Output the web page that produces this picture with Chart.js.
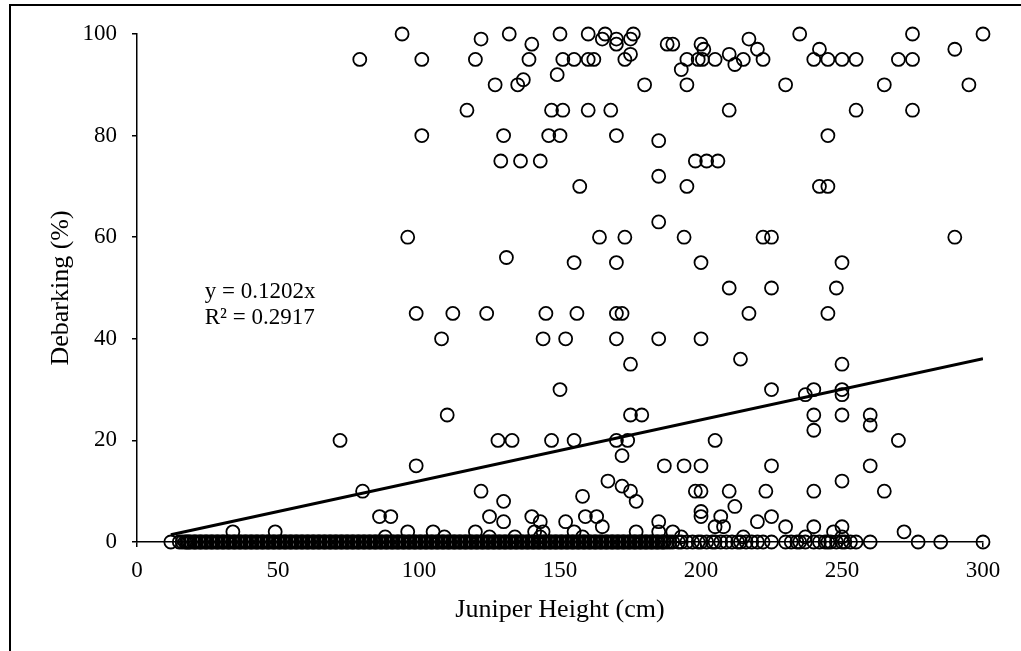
<!DOCTYPE html>
<html>
<head>
<meta charset="utf-8">
<script src="https://cdn.jsdelivr.net/npm/chart.js@4.4.0/dist/chart.umd.min.js"></script>
<style>
    html, body { margin: 0; padding: 0; background: #fff; overflow: hidden; }
    #frame {
        position: absolute; left: 9px; top: 4px; width: 1100px; height: 700px;
        border-left: 2px solid #000; border-top: 2px solid #000;
    }
    #chart { position: absolute; left: 0; top: 0; }
</style>
</head>
<body>
<div id="frame"></div>
<canvas id="chart" width="1021" height="651"></canvas>
<script>
// Junipers with some debarking: height (cm) and debarked share (%)
const heightCm = [
    94, 132, 150, 160, 166, 176, 235, 275, 300,
    122, 165, 170, 175, 217,
    140, 170, 188, 190, 200,
    201, 220, 242, 290,
    175, 210,
    79, 101, 120, 139, 151, 155, 160, 162, 173, 195, 199, 200.5, 205, 215, 222, 240, 245, 250, 255, 270, 275,
    212, 193, 149, 137,
    127, 135, 180, 195, 230, 265, 295,
    117, 147, 151, 160, 168, 210, 255, 275,
    101, 130, 146, 150, 170, 245,
    185,
    129, 136, 143, 198, 202, 206,
    185,
    157, 195, 242, 245,
    185,
    96, 164, 173, 194, 222, 225, 290,
    131,
    155, 170, 200, 250,
    210, 225, 248,
    99, 112, 124, 145, 156, 170, 172, 217, 245,
    108, 144, 152, 170, 185, 200,
    214,
    175, 250,
    150, 225, 240, 250,
    237, 250,
    110, 175, 179, 240, 250, 260,
    260, 240,
    72, 128, 133, 147, 155, 170, 174, 205, 270,
    172,
    99, 187, 194, 200, 225, 260,
    167, 250,
    172,
    80, 122, 175, 198, 200, 210, 223, 240, 265,
    158,
    130, 177,
    212, 200,
    86, 90, 125, 140, 159, 163, 200, 207, 225,
    130, 143, 152, 185, 220,
    165, 205, 208, 230, 240, 250,
    34, 49, 96, 105, 120, 141, 144, 155, 177, 185, 190, 247, 272,
    88, 109, 125, 134, 143, 158, 193, 215, 237, 250
];
const debarkPct = [
    100, 100, 100, 100, 100, 100, 100, 100, 100,
    99, 99, 99, 99, 99,
    98, 98, 98, 98, 98,
    97, 97, 97, 97,
    96, 96,
    95, 95, 95, 95, 95, 95, 95, 95, 95, 95, 95, 95, 95, 95, 95, 95, 95, 95, 95, 95, 95,
    94, 93, 92, 91,
    90, 90, 90, 90, 90, 90, 90,
    85, 85, 85, 85, 85, 85, 85, 85,
    80, 80, 80, 80, 80, 80,
    79,
    75, 75, 75, 75, 75, 75,
    72,
    70, 70, 70, 70,
    63,
    60, 60, 60, 60, 60, 60, 60,
    56,
    55, 55, 55, 55,
    50, 50, 50,
    45, 45, 45, 45, 45, 45, 45, 45, 45,
    40, 40, 40, 40, 40, 40,
    36,
    35, 35,
    30, 30, 30, 30,
    29, 29,
    25, 25, 25, 25, 25, 25,
    23, 22,
    20, 20, 20, 20, 20, 20, 20, 20, 20,
    17,
    15, 15, 15, 15, 15, 15,
    12, 12,
    11,
    10, 10, 10, 10, 10, 10, 10, 10, 10,
    9,
    8, 8,
    7, 6,
    5, 5, 5, 5, 5, 5, 5, 5, 5,
    4, 4, 4, 4, 4,
    3, 3, 3, 3, 3, 3,
    2, 2, 2, 2, 2, 2, 2, 2, 2, 2, 2, 2, 2,
    1, 1, 1, 1, 1, 1, 1, 1, 1, 1
];
// Junipers with no debarking (0 %) - the small trees are very many
const undamagedHeightCm = [
    12, 15, 16, 17, 18, 19, 20, 21, 22, 23, 24, 25, 26, 27, 28, 29, 30, 31, 32, 33,
    34, 35, 36, 37, 38, 39, 40, 41, 42, 43, 44, 45, 46, 47, 48, 49, 50, 51, 52, 53,
    54, 55, 56, 57, 58, 59, 60, 61, 62, 63, 64, 65, 66, 67, 68, 69, 70, 71, 72, 73,
    74, 75, 76, 77, 78, 79, 80, 81, 82, 83, 84, 85, 86, 87, 88, 89, 90, 91, 92, 93,
    94, 95, 96, 97, 98, 99, 100, 101, 102, 103, 104, 105, 106, 107, 108, 109, 110, 111, 112, 113,
    114, 115, 116, 117, 118, 119, 120, 121, 122, 123, 124, 125, 126, 127, 128, 129, 130, 131, 132, 133,
    134, 135, 136, 137, 138, 139, 140, 141, 142, 143, 144, 145, 146, 147, 148, 149, 150, 151, 152, 153,
    154, 155, 156, 157, 158, 159, 160, 161, 162, 163, 164, 165, 166, 167, 168, 169, 170, 171, 172, 173,
    174, 175, 176, 177, 178, 179, 180, 181, 182, 183, 184, 185, 186, 187, 188, 189,
    190, 192, 193, 195, 197, 199, 200, 202, 204, 205, 207, 209, 211, 213, 214, 216, 218, 220, 222, 225,
    230, 232, 234, 235, 237, 240, 242, 244, 245, 246, 248, 250, 251, 253, 255, 260, 277, 285, 300,
    17.5, 18.5, 20.5, 22.5, 24.5, 26.5, 28.5, 30.5, 32.5, 34.5, 36.5, 38.5, 40.5, 42.5, 44.5, 46.5,
    48.5, 50.5, 52.5, 54.5, 56.5, 58.5, 60.5, 62.5, 64.5, 66.5, 68.5, 70.5, 72.5, 74.5, 76.5, 78.5,
    80.5, 82.5, 84.5, 86.5, 88.5, 90.5, 92.5, 94.5, 96.5, 98.5, 100.5, 102.5, 104.5, 106.5, 108.5,
    110.5, 112.5, 114.5, 116.5, 118.5, 120.5, 122.5, 124.5, 126.5, 128.5, 130.5, 132.5, 134.5,
    136.5, 138.5, 140.5, 142.5, 144.5, 146.5, 148.5, 150.5, 152.5, 154.5, 156.5, 158.5, 160.5,
    162.5, 164.5, 166.5, 168.5, 170.5, 172.5, 174.5, 176.5, 178.5, 180.5, 182.5, 184.5, 186.5
];

// linear trend through the origin
const slope = 0.1202;
const rSquared = "0.2917";
const trendFrom = 12;
const trendTo = 300;

const xTicks = [0, 50, 100, 150, 200, 250, 300];
const yTicks = [0, 20, 40, 60, 80, 100];

const serif = '"Liberation Serif", "Times New Roman", serif';

const points = heightCm.map((h, i) => ({ x: h, y: debarkPct[i] }))
    .concat(undamagedHeightCm.map(h => ({ x: h, y: 0 })));

const trend = [trendFrom, trendTo].map(x => ({ x, y: slope * x }));

const equationLabel = {
    id: "equationLabel",
    afterDatasetsDraw(chart) {
        const { ctx, scales: { x, y } } = chart;
        const left = x.getPixelForValue(24);
        const top = y.getPixelForValue(49.2);
        ctx.save();
        ctx.font = `23px ${serif}`;
        ctx.fillStyle = "#000";
        ctx.textBaseline = "middle";
        ctx.fillText(`y = ${slope}x`, left, top);
        ctx.fillText(`R² = ${rSquared}`, left, top + 26);
        ctx.restore();
    }
};

function axis(min, max, values, title, fit) {
    return {
        type: "linear",
        min, max,
        afterBuildTicks: scale => { scale.ticks = values.map(value => ({ value })); },
        afterFit: fit,
        border: { display: true, color: "#000", width: 1.5 },
        grid: { drawOnChartArea: false, drawTicks: true, tickLength: 5, color: "#000", lineWidth: 1.5 },
        ticks: { color: "#000", font: { family: serif, size: 23 } },
        title: { display: true, text: title, color: "#000", font: { family: serif, size: 26 } }
    };
}

const xAxis = axis(0, 300, xTicks, "Juniper Height (cm)", scale => { scale.height = 109; });
xAxis.ticks.padding = 10;
xAxis.title.padding = { top: 0, bottom: 25 };

const yAxis = axis(0, 100, yTicks, "Debarking (%)", scale => { scale.width = 137; });
yAxis.ticks.padding = 15;
yAxis.title.padding = { top: 46, bottom: 0 };

new Chart(document.getElementById("chart"), {
    type: "scatter",
    data: {
        datasets: [{
            data: points,
            order: 1,
            clip: false,
            pointStyle: "circle",
            pointRadius: 6.5,
            borderWidth: 1.8,
            borderColor: "#000",
            backgroundColor: "rgba(0,0,0,0)"
        }, {
            type: "line",
            data: trend,
            order: 0,
            borderColor: "#000",
            borderWidth: 3,
            pointRadius: 0,
            fill: false
        }]
    },
    options: {
        responsive: false,
        animation: false,
        events: [],
        layout: { padding: { left: 0, top: 34, right: 38, bottom: 0 } },
        plugins: { legend: { display: false }, tooltip: { enabled: false } },
        scales: { x: xAxis, y: yAxis }
    },
    plugins: [equationLabel]
});
</script>
</body>
</html>
